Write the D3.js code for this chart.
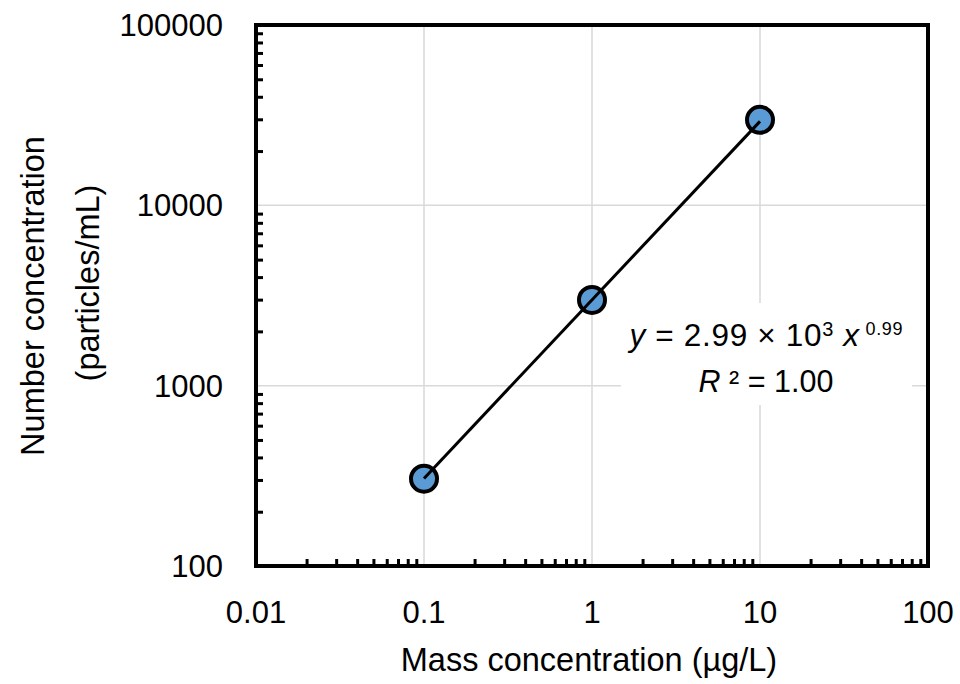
<!DOCTYPE html>
<html>
<head>
<meta charset="utf-8">
<script src="https://cdn.jsdelivr.net/npm/d3@7"></script>
<style>
  body { margin: 0; background: #fff; }
  text { font-family: "Liberation Sans", Arial, sans-serif; fill: #000; }
</style>
</head>
<body>
<svg width="960" height="684"></svg>
<script>
// data
var massConc = [0.1, 1, 10];
var numberConc = [305, 2990, 29800];
var xTicks = [0.01, 0.1, 1, 10, 100];
var yTicks = [100, 1000, 10000, 100000];
var fitA = 2990, fitB = 0.99;

var svg = d3.select("svg");

var margin = { left: 256, right: 32, top: 25, bottom: 118 };
var width = 960 - margin.left - margin.right;
var height = 684 - margin.top - margin.bottom;

var x = d3.scaleLog().domain([0.01, 100]).range([margin.left, margin.left + width]);
var y = d3.scaleLog().domain([100, 100000]).range([margin.top + height, margin.top]);

// gridlines
var grid = svg.append("g").attr("stroke", "#d9d9d9").attr("stroke-width", 1.5);
xTicks.slice(1, -1).forEach(function(t) {
  grid.append("line").attr("x1", x(t)).attr("x2", x(t))
    .attr("y1", y(100)).attr("y2", y(100000));
});
yTicks.slice(1, -1).forEach(function(t) {
  grid.append("line").attr("y1", y(t)).attr("y2", y(t))
    .attr("x1", x(0.01)).attr("x2", x(100));
});

// minor ticks, pointing inward
var minorX = [];
for (var d = 0.01; d < 100; d *= 10) {
  for (var k = 2; k <= 9; k++) minorX.push(d * k);
}
var minorY = [];
for (var e = 100; e < 100000; e *= 10) {
  for (var m = 2; m <= 9; m++) minorY.push(e * m);
}

var xAxis = d3.axisBottom(x).tickValues(minorX).tickSizeInner(-7).tickSizeOuter(0).tickFormat("");
var yAxis = d3.axisLeft(y).tickValues(minorY).tickSizeInner(-7).tickSizeOuter(0).tickFormat("");

svg.append("g").attr("transform", "translate(0," + (margin.top + height) + ")")
  .call(xAxis)
  .call(function(g) { g.select(".domain").remove(); })
  .selectAll("line").attr("stroke", "#000").attr("stroke-width", 3);
svg.append("g").attr("transform", "translate(" + margin.left + ",0)")
  .call(yAxis)
  .call(function(g) { g.select(".domain").remove(); })
  .selectAll("line").attr("stroke", "#000").attr("stroke-width", 3);

// frame
svg.append("rect")
  .attr("x", margin.left).attr("y", margin.top)
  .attr("width", width).attr("height", height)
  .attr("fill", "none").attr("stroke", "#000").attr("stroke-width", 4);

// tick labels
svg.append("g").selectAll("text").data(xTicks).enter().append("text")
  .attr("x", function(d) { return x(d); })
  .attr("y", y(100) + 57)
  .attr("text-anchor", "middle")
  .attr("font-size", "31px")
  .text(function(d) { return d; });

svg.append("g").selectAll("text").data(yTicks).enter().append("text")
  .attr("x", margin.left - 33)
  .attr("y", function(d) { return y(d); })
  .attr("dy", "0.36em")
  .attr("text-anchor", "end")
  .attr("font-size", "31px")
  .text(function(d) { return d; });

// axis titles
svg.append("text")
  .attr("x", 589).attr("y", 671)
  .attr("text-anchor", "middle")
  .attr("font-size", "32.5px")
  .text("Mass concentration (µg/L)");

svg.append("text")
  .attr("transform", "translate(44,296) rotate(-90)")
  .attr("text-anchor", "middle")
  .attr("font-size", "32.5px")
  .text("Number concentration");
svg.append("text")
  .attr("transform", "translate(99,283) rotate(-90)")
  .attr("text-anchor", "middle")
  .attr("font-size", "32.5px")
  .text("(particles/mL)");

// points
svg.append("g").selectAll("circle").data(massConc).enter().append("circle")
  .attr("cx", function(d) { return x(d); })
  .attr("cy", function(d, i) { return y(numberConc[i]); })
  .attr("r", 13)
  .attr("fill", "#5b9bd5")
  .attr("stroke", "#000")
  .attr("stroke-width", 4);

// power trendline
var fitX = [massConc[0], massConc[massConc.length - 1]];
svg.append("path")
  .datum(fitX)
  .attr("d", d3.line()
    .x(function(d) { return x(d); })
    .y(function(d) { return y(fitA * Math.pow(d, fitB)); }))
  .attr("stroke", "#000")
  .attr("stroke-width", 3)
  .attr("fill", "none");

// equation label
svg.append("rect")
  .attr("x", 621).attr("y", 303).attr("width", 291).attr("height", 102)
  .attr("fill", "#fff");

var eq = svg.append("text")
  .attr("x", 766).attr("y", 346)
  .attr("text-anchor", "middle")
  .attr("font-size", "31.5px")
  .attr("textLength", 273)
  .attr("lengthAdjust", "spacing");
eq.append("tspan").attr("font-style", "italic").text("y");
eq.append("tspan").text(" = 2.99 × 10");
eq.append("tspan").attr("font-size", "20px").attr("dy", -10).text("3");
eq.append("tspan").attr("dy", 10).text(" ");
eq.append("tspan").attr("font-style", "italic").text("x");
eq.append("tspan").attr("font-size", "18px").attr("dy", -11).text(" 0.99");

var r2 = svg.append("text")
  .attr("x", 766).attr("y", 392)
  .attr("text-anchor", "middle")
  .attr("font-size", "30.5px");
r2.append("tspan").attr("font-style", "italic").text("R");
r2.append("tspan").text(" ² = 1.00");
</script>
</body>
</html>
